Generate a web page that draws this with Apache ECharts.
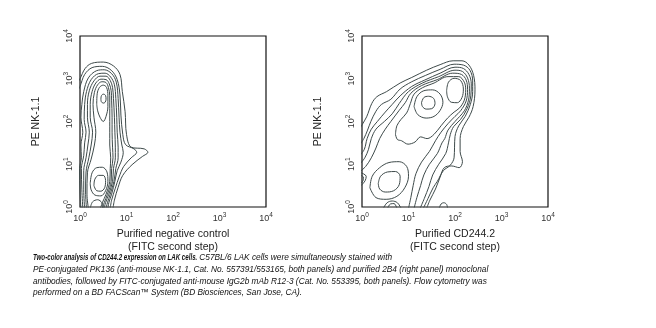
<!DOCTYPE html>
<html>
<head>
<meta charset="utf-8">
<script src="https://cdn.jsdelivr.net/npm/echarts@6/dist/echarts.min.js"></script>
<style>
  html, body { margin: 0; padding: 0; background: #fff; }
  #chart { width: 656px; height: 328px; }
</style>
</head>
<body>
<div id="chart"></div>
<script>
// Decade exponents shown on both log axes (10^0 .. 10^4)
const decadeExponents = [0, 1, 2, 3, 4];

// ---- Left panel: purified negative control (x = FITC decade, y = PE NK-1.1 decade) ----
const ctlLevel1 = [[-0.05,2.92],[0.0,3.0],[0.11,3.24],[0.25,3.36],[0.5,3.39],[0.72,3.3],[0.86,3.1],[0.91,2.7],[0.97,2.23],[1.0,1.7],[1.1,1.4],[1.38,1.36],[1.46,1.28],[1.34,1.18],[1.12,0.99],[0.92,0.74],[0.82,0.46],[0.74,0.16],[0.71,-0.03]];
const ctlLevel2 = [[-0.05,2.72],[0.0,2.82],[0.1,3.1],[0.26,3.26],[0.48,3.29],[0.67,3.2],[0.8,2.98],[0.86,2.62],[0.88,2.15],[0.92,1.7],[0.98,1.46],[1.16,1.36],[1.22,1.28],[1.1,1.15],[0.94,0.95],[0.84,0.7],[0.76,0.44],[0.68,0.16],[0.65,-0.03]];
const ctlLevel3 = [[0.02,-0.03],[0.0,0.35],[-0.01,0.9],[0.03,1.15],[0.02,1.45],[0.06,1.75],[0.02,2.1],[0.04,2.4],[0.08,2.7],[0.18,3.02],[0.36,3.19],[0.52,3.21],[0.68,3.12],[0.78,2.92],[0.82,2.54],[0.84,2.1],[0.86,1.75],[0.9,1.45],[0.93,1.28],[0.88,1.05],[0.8,0.85],[0.75,0.6],[0.68,0.3],[0.62,0.1],[0.6,-0.03]];
const ctlLevel4 = [[0.06,-0.03],[0.04,0.4],[0.03,0.9],[0.08,1.2],[0.1,1.5],[0.13,1.75],[0.09,2.05],[0.1,2.4],[0.14,2.7],[0.24,2.98],[0.4,3.12],[0.54,3.13],[0.66,3.04],[0.74,2.86],[0.77,2.54],[0.79,2.1],[0.8,1.75],[0.82,1.4],[0.82,1.15],[0.77,0.9],[0.73,0.6],[0.65,0.3],[0.59,0.1],[0.56,-0.03]];
const ctlLevel5 = [[0.1,-0.03],[0.08,0.4],[0.08,0.85],[0.13,1.15],[0.17,1.45],[0.2,1.75],[0.16,2.1],[0.16,2.4],[0.2,2.72],[0.3,2.95],[0.43,3.06],[0.56,3.06],[0.65,2.96],[0.7,2.8],[0.72,2.54],[0.74,2.1],[0.75,1.75],[0.76,1.4],[0.76,1.15],[0.72,0.9],[0.7,0.6],[0.62,0.3],[0.55,0.1],[0.52,-0.03]];
const ctlLevel6 = [[0.14,-0.03],[0.12,0.35],[0.13,0.82],[0.19,1.15],[0.24,1.45],[0.27,1.75],[0.22,2.1],[0.22,2.4],[0.26,2.7],[0.34,2.9],[0.45,2.99],[0.56,2.98],[0.63,2.88],[0.67,2.72],[0.68,2.5],[0.69,2.1],[0.69,1.75],[0.7,1.4],[0.71,1.15],[0.68,0.9],[0.67,0.6],[0.59,0.3],[0.52,0.1],[0.48,-0.03]];
const ctlLevel7 = [[0.18,-0.03],[0.15,0.3],[0.16,0.8],[0.24,1.12],[0.31,1.45],[0.34,1.75],[0.3,2.1],[0.28,2.4],[0.31,2.68],[0.38,2.86],[0.47,2.93],[0.56,2.91],[0.61,2.8],[0.64,2.6],[0.64,2.3],[0.64,2.0],[0.64,1.75],[0.64,1.45],[0.66,1.15],[0.65,0.9],[0.64,0.6],[0.56,0.3],[0.48,0.1],[0.44,-0.03]];
const ctlUpperRing = [[0.36,2.4],[0.37,2.65],[0.42,2.8],[0.5,2.85],[0.57,2.8],[0.6,2.6],[0.6,2.35],[0.56,2.12],[0.5,2.0],[0.43,2.1],[0.38,2.25],[0.36,2.4]];
const ctlUpperCore = [[0.45,2.52],[0.46,2.6],[0.5,2.64],[0.55,2.61],[0.56,2.52],[0.54,2.45],[0.5,2.43],[0.46,2.46],[0.45,2.52]];
const ctlLowerRing = [[0.22,0.55],[0.26,0.8],[0.36,0.92],[0.48,0.93],[0.58,0.82],[0.6,0.6],[0.55,0.38],[0.45,0.26],[0.32,0.28],[0.24,0.4],[0.22,0.55]];
const ctlLowerCore = [[0.3,0.5],[0.32,0.65],[0.4,0.74],[0.5,0.74],[0.55,0.62],[0.53,0.45],[0.45,0.37],[0.36,0.38],[0.3,0.5]];
const ctlBaseArc = [[0.22,-0.03],[0.27,0.12],[0.38,0.17],[0.47,0.1],[0.5,-0.03]];

// ---- Right panel: purified CD244.2 ----
const cdLevel1 = [[-0.06,1.8],[0,1.92],[0.1,2.11],[0.21,2.42],[0.32,2.58],[0.53,2.7],[0.82,2.9],[1.07,3.03],[1.39,3.2],[1.68,3.33],[1.96,3.42],[2.15,3.42],[2.3,3.32],[2.4,3.08],[2.43,2.74],[2.39,2.35],[2.3,2.1],[2.18,1.88],[2.11,1.6],[2.11,1.3],[2.16,1.06],[2.09,0.92],[1.93,0.96],[1.77,0.92],[1.68,0.7],[1.58,0.42],[1.46,0.16],[1.39,-0.03]];
const cdLevel2 = [[-0.05,1.45],[0.04,1.6],[0.12,1.8],[0.19,2.0],[0.3,2.24],[0.42,2.4],[0.62,2.52],[0.82,2.76],[1.07,2.93],[1.37,3.08],[1.68,3.22],[1.98,3.34],[2.18,3.32],[2.32,3.2],[2.38,2.95],[2.38,2.7],[2.33,2.4],[2.22,2.12],[2.08,1.9],[2.0,1.65],[1.99,1.4],[1.98,1.15],[1.9,0.98],[1.75,0.85],[1.62,0.6],[1.53,0.45],[1.42,0.2],[1.32,-0.03]];
const cdLevel3 = [[-0.05,1.2],[0.05,1.35],[0.11,1.6],[0.2,1.82],[0.33,2.0],[0.5,2.22],[0.65,2.4],[0.82,2.6],[1.07,2.82],[1.35,2.97],[1.68,3.13],[2.0,3.27],[2.18,3.24],[2.3,3.1],[2.35,2.88],[2.34,2.6],[2.26,2.3],[2.12,2.05],[1.97,1.88],[1.9,1.7],[1.86,1.5],[1.8,1.25],[1.65,1.0],[1.52,0.75],[1.44,0.48],[1.34,0.2],[1.25,-0.03]];
const cdLevel4 = [[-0.05,1.0],[0.06,1.15],[0.14,1.35],[0.2,1.6],[0.3,1.82],[0.48,2.0],[0.65,2.18],[0.8,2.42],[1.0,2.7],[1.3,2.9],[1.65,3.05],[2.0,3.2],[2.16,3.17],[2.27,3.02],[2.31,2.78],[2.29,2.5],[2.2,2.25],[2.0,2.0],[1.85,1.8],[1.78,1.6],[1.72,1.5],[1.62,1.25],[1.45,1.0],[1.33,0.75],[1.26,0.5],[1.18,0.22],[1.12,-0.03]];
const cdLevel5 = [[-0.05,0.82],[0.08,0.95],[0.2,1.15],[0.3,1.38],[0.38,1.6],[0.5,1.82],[0.62,2.0],[0.8,2.26],[0.93,2.44],[1.05,2.66],[1.28,2.84],[1.62,2.98],[1.95,3.13],[2.14,3.1],[2.24,2.97],[2.27,2.75],[2.24,2.48],[2.12,2.25],[2.0,2.12],[1.85,1.95],[1.7,1.75],[1.58,1.55],[1.45,1.3],[1.28,1.05],[1.16,0.78],[1.1,0.5],[1.05,0.22],[1.0,-0.03]];
const cdRidge = [[0.72,1.7],[0.75,1.9],[0.84,2.05],[0.96,2.2],[1.04,2.42],[1.12,2.64],[1.3,2.79],[1.55,2.9],[1.85,3.05],[2.08,3.05],[2.2,2.92],[2.23,2.74],[2.2,2.5],[2.1,2.32],[1.98,2.22],[1.84,2.08],[1.7,1.9],[1.55,1.7],[1.4,1.6],[1.26,1.64],[1.14,1.52],[0.99,1.47],[0.85,1.55],[0.76,1.58],[0.72,1.7]];
const cdMidRing = [[1.12,2.35],[1.18,2.58],[1.33,2.72],[1.52,2.74],[1.68,2.64],[1.74,2.45],[1.68,2.26],[1.55,2.12],[1.38,2.08],[1.2,2.16],[1.12,2.35]];
const cdMidCore = [[1.28,2.44],[1.33,2.56],[1.43,2.59],[1.54,2.54],[1.57,2.42],[1.5,2.3],[1.38,2.29],[1.3,2.35],[1.28,2.44]];
const cdBrightCore = [[1.82,2.72],[1.86,2.92],[1.98,3.01],[2.12,2.96],[2.18,2.76],[2.15,2.56],[2.05,2.44],[1.92,2.45],[1.84,2.57],[1.82,2.72]];
const cdLowerRing = [[0.17,0.45],[0.22,0.72],[0.38,0.92],[0.58,1.04],[0.8,1.06],[0.96,0.95],[1.0,0.72],[0.92,0.45],[0.75,0.25],[0.52,0.18],[0.3,0.22],[0.17,0.45]];
const cdLowerCore = [[0.35,0.55],[0.4,0.72],[0.55,0.82],[0.72,0.83],[0.82,0.72],[0.8,0.52],[0.68,0.38],[0.5,0.35],[0.38,0.42],[0.35,0.55]];
const cdEdgeArcA = [[-0.02,0.5],[0.07,0.62],[0.09,0.72],[-0.02,0.8]];
const cdEdgeArcB = [[-0.02,0.56],[0.03,0.64],[0.03,0.7],[-0.02,0.74]];
const cdBaseArcA = [[0.46,-0.03],[0.54,0.1],[0.65,0.14],[0.76,0.1],[0.84,-0.03]];
const cdBaseArcB = [[0.55,-0.03],[0.61,0.07],[0.69,0.08],[0.75,-0.03]];
const cdBaseLoop = [[1.66,-0.03],[1.7,0.07],[1.76,0.1],[1.82,0.06],[1.84,-0.03]];

const controlContours = [ctlLevel1, ctlLevel2, ctlLevel3, ctlLevel4, ctlLevel5, ctlLevel6, ctlLevel7,
  ctlUpperRing, ctlUpperCore, ctlLowerRing, ctlLowerCore, ctlBaseArc];
const cd244Contours = [cdLevel1, cdLevel2, cdLevel3, cdLevel4, cdLevel5, cdRidge, cdMidRing, cdMidCore,
  cdBrightCore, cdLowerRing, cdLowerCore, cdEdgeArcA, cdEdgeArcB, cdBaseArcA, cdBaseArcB, cdBaseLoop];

const xTitles = ['Purified negative control\n(FITC second step)', 'Purified CD244.2\n(FITC second step)'];
const yTitle = 'PE NK-1.1';

const FONT = '"Liberation Sans", Arial, sans-serif';
const LINE_COLOR = '#3e4a4a';

const tickRich = {
  b: { fontSize: 9, color: '#333', fontFamily: FONT },
  s: { fontSize: 6.5, color: '#333', fontFamily: FONT, padding: [0, 0, 6, 0] }
};
const decadeFormatter = v => decadeExponents.includes(v) ? '{b|10}{s|' + v + '}' : '';

function makeX(i) {
  return {
    gridIndex: i, type: 'value', min: 0, max: 4, interval: 1,
    axisLine: { show: false }, axisTick: { show: false }, splitLine: { show: false },
    axisLabel: { formatter: decadeFormatter, rich: tickRich, margin: 5 },
    name: xTitles[i], nameLocation: 'middle', nameGap: 19,
    nameTextStyle: { fontFamily: FONT, fontSize: 10.5, color: '#222', lineHeight: 13 }
  };
}
function makeY(i) {
  return {
    gridIndex: i, type: 'value', min: 0, max: 4, interval: 1,
    axisLine: { show: false }, axisTick: { show: false }, splitLine: { show: false },
    axisLabel: { formatter: decadeFormatter, rich: tickRich, rotate: 90, margin: 4 },
    name: yTitle, nameLocation: 'middle', nameGap: 38,
    nameTextStyle: { fontFamily: FONT, fontSize: 10.5, color: '#222' }
  };
}

function contourSeries(list, idx) {
  return list.map(pts => ({
    type: 'line', xAxisIndex: idx, yAxisIndex: idx, data: pts,
    smooth: 0.35, showSymbol: false, clip: true, silent: true,
    lineStyle: { color: LINE_COLOR, width: 1 }
  }));
}

// Figure legend: a condensed bold lead-in followed by four italic lines
const CAPTION_SIZE = 8.3;
const CAPTION_TOP = 254;
const CAPTION_STEP = 11.7;
const captionLead = 'Two-color analysis of CD244.2 expression on LAK cells.';
const captionLines = [
  ' C57BL/6 LAK cells were simultaneously stained with',
  'PE-conjugated PK136 (anti-mouse NK-1.1, Cat. No. 557391/553165, both panels) and purified 2B4 (right panel) monoclonal',
  'antibodies, followed by FITC-conjugated anti-mouse IgG2b mAb R12-3 (Cat. No. 553395, both panels). Flow cytometry was',
  'performed on a BD FACScan\u2122 System (BD Biosciences, San Jose, CA).'
];
const captionIndent = [197, 33, 33, 33];

const captionBase = { fontFamily: FONT, fontStyle: 'italic', fontSize: CAPTION_SIZE, fill: '#111', verticalAlign: 'top', align: 'left' };
const captionGraphics = [{
  type: 'text', x: 33, y: CAPTION_TOP, scaleX: 0.745, silent: true,
  style: Object.assign({}, captionBase, { text: captionLead, fontWeight: 'bold' })
}].concat(captionLines.map((t, i) => ({
  type: 'text', x: captionIndent[i], y: CAPTION_TOP + i * CAPTION_STEP, silent: true,
  style: Object.assign({}, captionBase, { text: t })
})));

const chart = echarts.init(document.getElementById('chart'), null, { renderer: 'canvas' });
chart.setOption({
  animation: false,
  backgroundColor: '#fff',
  grid: [
    { left: 80, top: 36, width: 186, height: 171, show: true, borderColor: '#111', borderWidth: 1.2 },
    { left: 362, top: 36, width: 186, height: 171, show: true, borderColor: '#111', borderWidth: 1.2 }
  ],
  xAxis: [makeX(0), makeX(1)],
  yAxis: [makeY(0), makeY(1)],
  series: contourSeries(controlContours, 0).concat(contourSeries(cd244Contours, 1)),
  graphic: captionGraphics
});
</script>
</body>
</html>
